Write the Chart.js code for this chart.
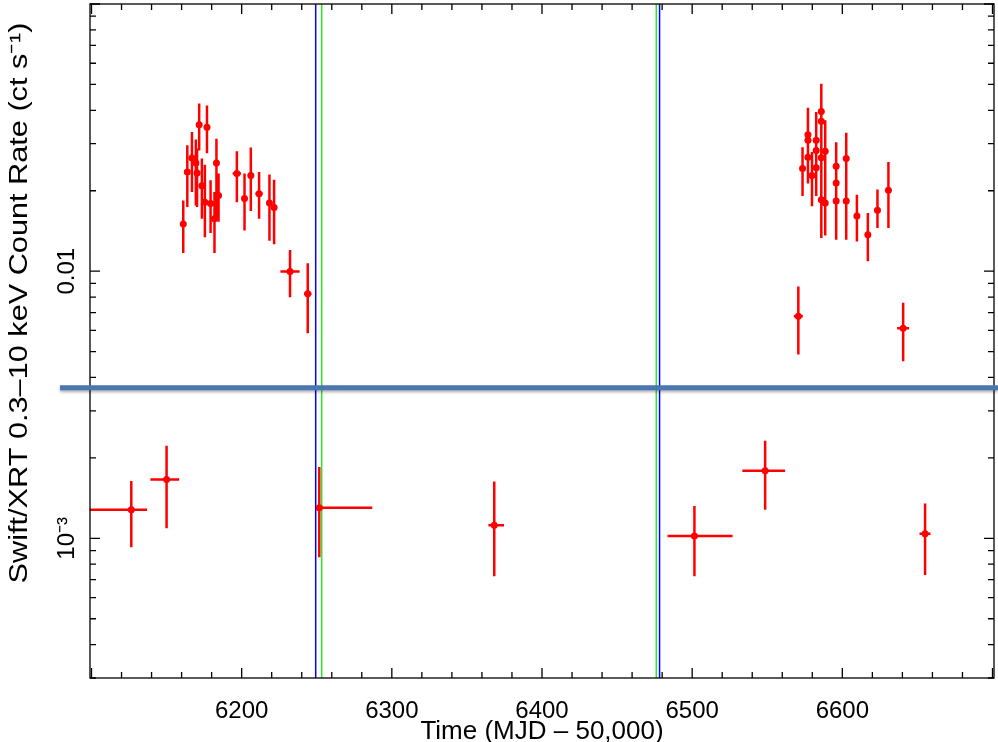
<!DOCTYPE html>
<html>
<head>
<meta charset="utf-8">
<script src="https://cdn.jsdelivr.net/npm/chart.js@4.4.1/dist/chart.umd.min.js"></script>
<style>
  html, body { margin: 0; padding: 0; background: #fff; }
  #wrap { width: 998px; height: 742px; position: relative; }
</style>
</head>
<body>
<div id="wrap"><canvas id="lc"></canvas></div>
<script>
// Swift/XRT light curve (MJD - 50000), count rate with error bounds
const time = [6126.5, 6150.0, 6161.1, 6163.8, 6166.9, 6169.5, 6170.3, 6171.7, 6173.5, 6175.5,
  6176.9, 6179.3, 6181.9, 6183.2, 6184.6, 6196.8, 6201.9, 6206.1, 6211.6, 6218.5,
  6221.6, 6232.2, 6244.0, 6251.7, 6368.2, 6501.5, 6548.6, 6570.7, 6573.5, 6577.1,
  6577.1, 6577.1, 6579.8, 6582.6, 6582.6, 6582.6, 6586.0, 6586.0, 6586.0, 6586.0,
  6588.6, 6588.6, 6595.9, 6595.9, 6595.9, 6602.6, 6602.6, 6609.7, 6617.0, 6623.4,
  6630.7, 6640.5, 6655.1];
const timeLo = [6098.8, 6139.2, 6160.1, 6162.8, 6165.9, 6168.5, 6169.3, 6170.7, 6172.5, 6174.5,
  6175.9, 6178.3, 6180.9, 6182.2, 6183.6, 6194.0, 6201.0, 6205.2, 6209.2, 6217.6,
  6220.7, 6225.8, 6241.5, 6250.9, 6364.3, 6483.6, 6533.4, 6567.7, 6572.5, 6576.1,
  6576.1, 6576.1, 6578.8, 6581.6, 6581.6, 6581.6, 6585.0, 6585.0, 6585.0, 6585.0,
  6587.6, 6587.6, 6594.9, 6594.9, 6594.9, 6601.6, 6601.6, 6608.7, 6616.0, 6622.4,
  6629.7, 6636.5, 6651.4];
const timeHi = [6137.0, 6158.4, 6162.1, 6164.8, 6167.9, 6170.5, 6171.3, 6172.7, 6174.5, 6176.5,
  6177.9, 6180.3, 6182.9, 6184.2, 6185.6, 6199.6, 6202.8, 6207.0, 6214.0, 6219.4,
  6222.5, 6238.6, 6246.5, 6287.0, 6374.7, 6526.9, 6561.9, 6573.7, 6574.5, 6578.1,
  6578.1, 6578.1, 6580.8, 6583.6, 6583.6, 6583.6, 6587.0, 6587.0, 6587.0, 6587.0,
  6589.6, 6589.6, 6596.9, 6596.9, 6596.9, 6603.6, 6603.6, 6610.7, 6618.0, 6624.4,
  6631.7, 6644.5, 6658.7];
const rate = [0.00128, 0.00166, 0.0150, 0.0235, 0.0265, 0.0254, 0.0233, 0.0353, 0.0209, 0.0181,
  0.0346, 0.0179, 0.0157, 0.0254, 0.0192, 0.0232, 0.0187, 0.0228, 0.0195, 0.0180,
  0.0173, 0.00997, 0.00823, 0.00130, 0.00112, 0.00102, 0.00179, 0.00678, 0.0242, 0.0324,
  0.0309, 0.0267, 0.0228, 0.0309, 0.0283, 0.0244, 0.0396, 0.0364, 0.0266, 0.0185,
  0.0281, 0.0180, 0.0247, 0.0214, 0.0183, 0.0264, 0.0183, 0.0161, 0.0137, 0.0169,
  0.0201, 0.00612, 0.00104];
const rateLo = [0.000925, 0.00109, 0.0117, 0.0174, 0.0198, 0.0176, 0.0174, 0.0283, 0.0157, 0.0134,
  0.0276, 0.0139, 0.0117, 0.0156, 0.0153, 0.0181, 0.0142, 0.0168, 0.0157, 0.0130,
  0.0126, 0.00799, 0.00585, 0.000849, 0.000721, 0.000721, 0.00128, 0.00488, 0.0191, 0.0249,
  0.0234, 0.0213, 0.0175, 0.0238, 0.0219, 0.0191, 0.0309, 0.0283, 0.0201, 0.0133,
  0.0219, 0.0136, 0.0184, 0.0162, 0.0131, 0.0201, 0.0131, 0.0129, 0.0109, 0.0145,
  0.0145, 0.0046, 0.000729];
const rateHi = [0.00164, 0.00222, 0.0184, 0.0296, 0.0332, 0.0311, 0.0288, 0.0424, 0.0264, 0.0250,
  0.0417, 0.0219, 0.0198, 0.0313, 0.0232, 0.0281, 0.0232, 0.0290, 0.0235, 0.0230,
  0.0220, 0.0120, 0.0107, 0.00185, 0.00163, 0.00132, 0.00232, 0.00876, 0.0291, 0.0409,
  0.0393, 0.0351, 0.0279, 0.0394, 0.0367, 0.0322, 0.0503, 0.0455, 0.0336, 0.0238,
  0.0367, 0.0228, 0.0304, 0.0271, 0.0238, 0.0330, 0.0238, 0.0193, 0.0165, 0.0202,
  0.0256, 0.00761, 0.00135];

// marker lines
const blueTimes = [6249.3, 6478.3];
const greenTimes = [6253.3, 6476.1];
const cutRate = 0.00366;

// axes
const xTickVals = [6200, 6300, 6400, 6500, 6600];
const yTickVals = [0.001, 0.01];
const yTickText = ['10\u207B\u00B3', '0.01'];
const xTitle = 'Time (MJD \u2013 50,000)';
const yTitle = 'Swift/XRT 0.3\u201310 keV Count Rate (ct s\u207B\u00B9)';

const FONT = '"Liberation Sans", Arial, Helvetica, sans-serif';

const markerLines = {
  id: 'markerLines',
  beforeDatasetsDraw(chart) {
    const { ctx, chartArea: a, scales: { x } } = chart;
    ctx.save();
    ctx.lineWidth = 1.5;
    [[blueTimes, '#0000ff'], [greenTimes, '#22ee22']].forEach(([list, col]) => {
      ctx.strokeStyle = col;
      ctx.beginPath();
      list.forEach(t => {
        const px = x.getPixelForValue(t);
        ctx.moveTo(px, a.top);
        ctx.lineTo(px, a.bottom);
      });
      ctx.stroke();
    });
    ctx.restore();
  }
};

const errorBars = {
  id: 'errorBars',
  beforeDatasetsDraw(chart) {
    const { ctx, scales: { x, y } } = chart;
    ctx.save();
    ctx.strokeStyle = '#ff0000';
    ctx.lineWidth = 2.5;
    ctx.beginPath();
    time.forEach((t, i) => {
      const px = x.getPixelForValue(t);
      const py = y.getPixelForValue(rate[i]);
      ctx.moveTo(px, y.getPixelForValue(rateLo[i]));
      ctx.lineTo(px, y.getPixelForValue(rateHi[i]));
      ctx.moveTo(x.getPixelForValue(timeLo[i]), py);
      ctx.lineTo(x.getPixelForValue(timeHi[i]), py);
    });
    ctx.stroke();
    ctx.restore();
  }
};

// box with inward ticks on all four sides
const frame = {
  id: 'frame',
  afterDatasetsDraw(chart) {
    const { ctx, chartArea: a, scales: { x, y } } = chart;
    ctx.save();
    ctx.strokeStyle = '#000';
    ctx.lineWidth = 1.3;
    ctx.strokeRect(a.left, a.top, a.right - a.left, a.bottom - a.top);
    ctx.beginPath();
    for (let v = Math.ceil(x.min / 20) * 20; v <= x.max; v += 20) {
      const len = v % 100 === 0 ? 10 : 6;
      const px = x.getPixelForValue(v);
      ctx.moveTo(px, a.bottom); ctx.lineTo(px, a.bottom - len);
      ctx.moveTo(px, a.top); ctx.lineTo(px, a.top + len);
    }
    for (let e = -4; e <= -1; e++) {
      for (let m = 1; m <= 9; m++) {
        const v = m * Math.pow(10, e);
        if (v < y.min * 0.999 || v > y.max * 1.001) continue;
        const len = m === 1 ? 10 : 6;
        const py = y.getPixelForValue(v);
        ctx.moveTo(a.left, py); ctx.lineTo(a.left + len, py);
        ctx.moveTo(a.right, py); ctx.lineTo(a.right - len, py);
      }
    }
    ctx.stroke();
    ctx.restore();
  }
};

const overlay = {
  id: 'overlay',
  afterDraw(chart) {
    const { ctx, chartArea: a, scales: { y } } = chart;
    ctx.save();
    const py = y.getPixelForValue(cutRate);
    ctx.shadowColor = 'rgba(0,0,0,0.3)';
    ctx.shadowOffsetY = 2;
    ctx.shadowBlur = 3;
    ctx.strokeStyle = '#4a76b2';
    ctx.lineWidth = 5;
    ctx.beginPath();
    ctx.moveTo(a.left - 30, py);
    ctx.lineTo(chart.width, py);
    ctx.stroke();
    ctx.restore();

    // y title, a little stretched along its length like the original figure
    ctx.save();
    ctx.translate(20, 303);
    ctx.rotate(-Math.PI / 2);
    ctx.scale(1.18, 1);
    ctx.font = '26px ' + FONT;
    ctx.fillStyle = '#000';
    ctx.textAlign = 'center';
    ctx.textBaseline = 'middle';
    ctx.fillText(yTitle, 0, 0);
    ctx.restore();
  }
};

new Chart(document.getElementById('lc'), {
  type: 'scatter',
  data: {
    datasets: [{
      data: time.map((t, i) => ({ x: t, y: rate[i] })),
      backgroundColor: '#ff0000',
      borderWidth: 0,
      pointRadius: 3.5
    }]
  },
  plugins: [markerLines, errorBars, frame, overlay],
  options: {
    responsive: true,
    maintainAspectRatio: false,
    animation: false,
    layout: { padding: { top: 4, right: 3, left: 0, bottom: 0 } },
    plugins: {
      legend: { display: false },
      tooltip: { enabled: false }
    },
    scales: {
      x: {
        type: 'linear',
        min: 6099,
        max: 6701,
        grid: { display: false },
        border: { display: false },
        afterBuildTicks: s => { s.ticks = xTickVals.map(v => ({ value: v })); },
        afterFit: s => { s.height = 64; s.paddingLeft = 0; s.paddingRight = 0; },
        ticks: {
          autoSkip: false,
          maxRotation: 0,
          padding: 11,
          color: '#000',
          font: { family: FONT, size: 24 },
          callback: v => String(v)
        },
        title: {
          display: true,
          text: xTitle,
          color: '#000',
          font: { family: FONT, size: 26 },
          padding: { top: 0, bottom: -5 }
        }
      },
      y: {
        type: 'logarithmic',
        min: 0.0003,
        max: 0.1,
        grid: { display: false },
        border: { display: false },
        afterBuildTicks: s => { s.ticks = yTickVals.map(v => ({ value: v })); },
        afterFit: s => { s.width = 90; s.paddingTop = 0; s.paddingBottom = 0; },
        ticks: {
          autoSkip: false,
          minRotation: 90,
          maxRotation: 90,
          crossAlign: 'center',
          padding: -9,
          color: '#000',
          font: { family: FONT, size: 24 },
          callback: v => yTickText[yTickVals.indexOf(v)]
        }
      }
    }
  }
});
</script>
</body>
</html>
